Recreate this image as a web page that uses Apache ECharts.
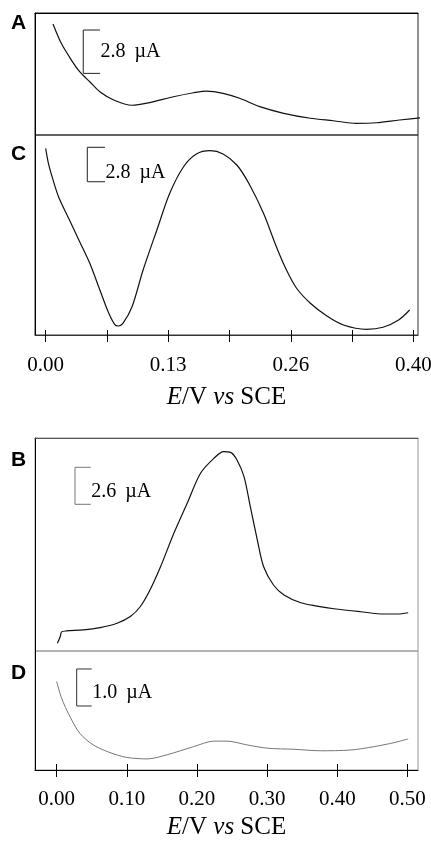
<!DOCTYPE html>
<html>
<head>
<meta charset="utf-8">
<script src="https://cdn.jsdelivr.net/npm/echarts@6/dist/echarts.min.js"></script>
<style>
html,body{margin:0;padding:0;background:#fff;}
#chart{width:431px;height:841px;}
</style>
</head>
<body>
<div id="chart"></div>
<script>
// ---------- data (E / V vs SCE, current / µA relative) ----------
const panelLetters = ['A', 'C', 'B', 'D'];
const eA = [0.008,0.017,0.028,0.037,0.048,0.059,0.074,0.094,0.113,0.139,0.161,0.175,0.193,0.211,0.233,0.259,0.288,0.313,0.338,0.360,0.385,0.413];
const iA = [7.17,5.92,4.84,4.09,3.44,2.80,2.26,1.92,2.09,2.47,2.73,2.84,2.69,2.37,1.83,1.40,1.08,0.92,0.75,0.79,0.97,1.14];
const eC = [0.000,0.003,0.007,0.014,0.025,0.037,0.048,0.059,0.068,0.075,0.079,0.084,0.094,0.106,0.121,0.135,0.150,0.164,0.179,0.193,0.208,0.222,0.237,0.251,0.262,0.273,0.288,0.306,0.324,0.349,0.367,0.384,0.396];
const iC = [15.18,13.96,12.87,11.24,9.49,7.59,5.83,3.66,1.89,0.87,0.73,0.95,2.30,5.28,8.54,11.52,13.68,14.72,14.99,14.72,13.82,12.20,9.89,7.18,5.28,3.80,2.58,1.54,0.81,0.46,0.63,1.22,2.03];
const eB = [0.001,0.005,0.007,0.014,0.038,0.062,0.086,0.105,0.119,0.133,0.148,0.167,0.186,0.205,0.224,0.238,0.248,0.257,0.267,0.276,0.286,0.295,0.309,0.324,0.348,0.371,0.395,0.433,0.467,0.486,0.501];
const iB = [0.54,1.00,1.34,1.41,1.48,1.64,1.95,2.42,3.11,4.29,5.92,8.27,10.38,12.49,13.54,14.01,13.96,13.42,12.25,10.14,7.80,5.92,4.64,3.94,3.39,3.16,2.97,2.76,2.60,2.60,2.69];
const eD = [0.000,0.007,0.019,0.033,0.052,0.076,0.100,0.129,0.157,0.195,0.224,0.243,0.271,0.300,0.338,0.376,0.419,0.452,0.481,0.501];
const iD = [2.39,1.94,1.44,0.99,0.68,0.47,0.34,0.30,0.41,0.63,0.78,0.78,0.68,0.59,0.56,0.52,0.54,0.63,0.74,0.84];
const scaleBarValues = [2.8, 2.8, 2.6, 1.0];   // µA, panels A, C, B, D
const topTickValues = [0, 0.4/6, 0.8/6, 0.2, 1.6/6, 2.0/6, 0.4];
const topLabelValues = [0, 0.4/3, 0.8/3, 0.4];
const topTickLabels = ['0.00', '0.13', '0.26', '0.40'];
const bottomTickValues = [0, 0.1, 0.2, 0.3, 0.4, 0.5];
const bottomTickLabels = ['0.00', '0.10', '0.20', '0.30', '0.40', '0.50'];
const axisTitle = '{i|E}/V {i|vs} SCE';

// ---------- layout ----------
const zip = (xs, ys) => xs.map((x, k) => [x, ys[k]]);
const labelFor = (vals, labels) => (v) => {
  let best = -1, bd = 1e9;
  vals.forEach((x, k) => { const d = Math.abs(x - v); if (d < bd) { bd = d; best = k; } });
  return bd < 1e-4 ? labels[best] : '';
};
const SERIF = 'Liberation Serif';
const topX = { min: -0.0116, max: 0.4051 };
const botX = { min: -0.0309, max: 0.5150 };
const yMax = [7.88, 16.26, 14.97, 3.216];
const boxes = [
  { left: 35, top: 13, width: 383, height: 122, border: '#222' },
  { left: 35, top: 135, width: 383, height: 200, border: '#333' },
  { left: 35, top: 135, width: 383, height: 200, border: null },
  { left: 35, top: 438, width: 383, height: 213, border: '#999' },
  { left: 35, top: 651, width: 383, height: 119, border: '#999' },
  { left: 35, top: 651, width: 383, height: 119, border: null }
];
// scale bar anchors in data units
const bars = [
  { grid: 0, x0: 0.0409, x1: 0.0591, top: 6.78, text: 5.38, color: '#222' },
  { grid: 1, x0: 0.0453, x1: 0.0645, top: 15.26, text: 13.2, color: '#222' },
  { grid: 3, x0: 0.0261, x1: 0.0485, top: 12.91, text: 11.19, color: '#777' },
  { grid: 4, x0: 0.0285, x1: 0.0499, top: 2.73, text: 2.09, color: '#333' }
];
const letterPos = [[11, 13], [11, 144], [11, 450], [11, 663]];

const grid = boxes.map(b => ({
  left: b.left, top: b.top, width: b.width, height: b.height,
  containLabel: false, outerBoundsMode: 'none',
  show: !!b.border, borderColor: b.border || 'transparent', borderWidth: 1,
  backgroundColor: 'transparent'
}));

const noAxis = { show: false };
const nameStyle = {
  fontFamily: SERIF, fontSize: 25, color: '#000',
  rich: { i: { fontFamily: SERIF, fontSize: 25, fontStyle: 'italic', color: '#000' } }
};
const xAxis = [
  { gridIndex: 0, type: 'value', position: 'top', min: topX.min, max: topX.max,
    axisLine: { show: true, onZero: false, lineStyle: { color: '#000', width: 1 } },
    axisTick: noAxis, axisLabel: noAxis, splitLine: noAxis },
  { gridIndex: 1, type: 'value', position: 'bottom', min: topX.min, max: topX.max,
    axisLine: { show: true, onZero: false, lineStyle: { color: '#333', width: 1 } },
    axisTick: { show: true, inside: false, length: 7, customValues: topTickValues, lineStyle: { color: '#000', width: 1 } },
    axisLabel: { show: true, customValues: topLabelValues, margin: 20, fontFamily: SERIF, fontSize: 21, color: '#000',
      hideOverlap: false, showMinLabel: true, showMaxLabel: true,
      formatter: labelFor(topLabelValues, topTickLabels) },
    splitLine: noAxis,
    name: axisTitle, nameLocation: 'middle', nameGap: 50, nameTextStyle: nameStyle },
  { gridIndex: 2, type: 'value', position: 'bottom', min: topX.min, max: topX.max,
    axisLine: { show: false, onZero: false },
    axisTick: { show: true, inside: true, length: 5, customValues: topTickValues, lineStyle: { color: '#000', width: 1 } },
    axisLabel: noAxis, splitLine: noAxis },
  { gridIndex: 3, type: 'value', position: 'top', min: botX.min, max: botX.max,
    axisLine: { show: true, onZero: false, lineStyle: { color: '#555', width: 1 } },
    axisTick: noAxis, axisLabel: noAxis, splitLine: noAxis },
  { gridIndex: 4, type: 'value', position: 'bottom', min: botX.min, max: botX.max,
    axisLine: { show: true, onZero: false, lineStyle: { color: '#000', width: 1 } },
    axisTick: { show: true, inside: false, length: 7, customValues: bottomTickValues, lineStyle: { color: '#000', width: 1 } },
    axisLabel: { show: true, customValues: bottomTickValues, margin: 19, fontFamily: SERIF, fontSize: 21, color: '#000',
      hideOverlap: false, showMinLabel: true, showMaxLabel: true,
      formatter: labelFor(bottomTickValues, bottomTickLabels) },
    splitLine: noAxis,
    name: axisTitle, nameLocation: 'middle', nameGap: 45, nameTextStyle: nameStyle },
  { gridIndex: 5, type: 'value', position: 'bottom', min: botX.min, max: botX.max,
    axisLine: { show: false, onZero: false },
    axisTick: { show: true, inside: true, length: 6, customValues: bottomTickValues, lineStyle: { color: '#000', width: 1 } },
    axisLabel: noAxis, splitLine: noAxis }
];
const yMaxByGrid = [yMax[0], yMax[1], yMax[1], yMax[2], yMax[3], yMax[3]];
const yAxis = yMaxByGrid.map((m, g) => ({
  gridIndex: g, type: 'value', min: 0, max: m, position: 'left',
  axisLine: { show: g === 0 || g === 1 || g === 3 || g === 4, onZero: false, lineStyle: { color: '#000', width: 1 } },
  axisTick: noAxis, axisLabel: noAxis, splitLine: noAxis
}));

const curve = (grid, data, color, width) => ({
  type: 'line', xAxisIndex: grid, yAxisIndex: grid, data: data,
  showSymbol: false, symbol: 'none', smooth: 0.3, clip: false, silent: true,
  lineStyle: { color: color, width: width }
});

const series = [
  curve(0, zip(eA, iA), '#111', 1.2),
  curve(1, zip(eC, iC), '#111', 1.2),
  curve(3, zip(eB, iB), '#111', 1.2),
  curve(4, zip(eD, iD), '#777', 1.0)
];
bars.forEach((b, k) => {
  const v = scaleBarValues[k];
  series.push({
    type: 'line', xAxisIndex: b.grid, yAxisIndex: b.grid, silent: true, clip: false,
    showSymbol: false, symbol: 'none', smooth: false,
    lineStyle: { color: b.color, width: 1 },
    data: [[b.x1, b.top], [b.x0, b.top], [b.x0, b.top - v], [b.x1, b.top - v]],
    markPoint: {
      silent: true, symbol: 'rect', symbolSize: 1, itemStyle: { color: 'transparent' },
      label: { show: true, position: 'right', distance: 0, fontFamily: SERIF, fontSize: 20, color: '#000',
        formatter: v.toFixed(1) + ' \u2009\u00b5A' },
      data: [{ coord: [b.x1, b.text] }]
    }
  });
});

const title = panelLetters.map((t, k) => ({
  text: t, left: letterPos[k][0], top: letterPos[k][1], padding: 0,
  textStyle: { fontFamily: 'Liberation Sans', fontWeight: 'bold', fontSize: 21, color: '#000' }
}));

const chart = echarts.init(document.getElementById('chart'), null, { renderer: 'canvas' });
chart.setOption({
  animation: false,
  backgroundColor: '#fff',
  title: title,
  grid: grid,
  xAxis: xAxis,
  yAxis: yAxis,
  series: series
});
</script>
</body>
</html>
